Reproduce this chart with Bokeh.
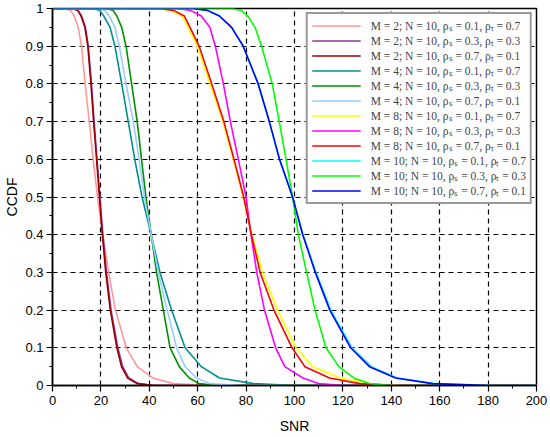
from bokeh.plotting import figure
from bokeh.models import FixedTicker, Legend, LegendItem
from bokeh.embed import file_html
from bokeh.resources import INLINE

ccdf_levels = [1.0, 1.0, 0.995, 0.98, 0.95, 0.9, 0.8, 0.7, 0.6, 0.5, 0.4,
               0.3, 0.2, 0.1, 0.05, 0.02, 0.005, 0.0, 0.0]

snr_m2_s01 = [0, 5, 7.5, 9.0, 10.6, 12.0, 13.5, 15.2, 16.8, 18.6, 20.8, 23.2, 26.0, 30.5, 35.0, 41.5, 50.0, 65.0, 200]
snr_m2_s03 = [0, 8.5, 10.5, 12.0, 13.6, 14.8, 16.1, 17.2, 18.4, 19.6, 20.8, 22.3, 24.2, 27.0, 29.0, 31.5, 35.5, 42.0, 200]
snr_m2_s07 = [0, 8.5, 10.5, 11.8, 13.4, 14.6, 15.9, 17.0, 18.2, 19.4, 20.6, 22.0, 23.9, 26.6, 28.5, 31.0, 35.0, 42.0, 200]
snr_m4_s01 = [0, 17, 19.5, 21.2, 23.8, 25.8, 28.6, 31.3, 34.0, 37.0, 40.8, 44.4, 49.2, 54.8, 61.5, 69.0, 83.0, 100.0, 200]
snr_m4_s03 = [0, 22.5, 25.0, 26.6, 28.6, 30.4, 32.7, 35.0, 36.8, 38.6, 40.8, 43.0, 45.8, 48.6, 52.4, 56.5, 60.5, 68.0, 200]
snr_m4_s07 = [0, 19, 21.5, 23.5, 25.8, 27.6, 30.4, 33.4, 35.8, 38.0, 40.8, 43.7, 47.4, 51.3, 54.8, 59.5, 65.0, 78.0, 200]
snr_m8_s01 = [0, 43, 49, 53.5, 56.1, 59.8, 65.1, 70.4, 74.7, 78.8, 82.4, 86.8, 93.0, 100.6, 107.5, 119.0, 131.0, 145.0, 200]
snr_m8_s03 = [0, 52, 57, 61.5, 65.0, 67.3, 70.6, 73.5, 76.8, 80.0, 82.0, 84.4, 87.6, 92.2, 96.0, 103.5, 110.0, 120.0, 200]
snr_m8_s07 = [0, 44, 50, 54.5, 56.8, 60.6, 65.8, 70.8, 75.0, 79.0, 82.2, 85.8, 91.5, 99.0, 104.3, 114.5, 127.0, 142.0, 200]
snr_m10_s01 = [0, 58, 64, 69, 74, 78.8, 85.0, 89.6, 93.8, 99.2, 103.5, 108.9, 115.0, 123.8, 131.8, 142.5, 158.0, 182.0, 200]
snr_m10_s03 = [0, 74, 78, 80.7, 83.7, 86.4, 90.8, 93.7, 96.5, 99.2, 101.6, 105.0, 108.5, 113.0, 118.3, 124.5, 131.0, 140.0, 200]
snr_m10_s07 = [0, 58, 64, 69, 74, 78.8, 85.0, 89.6, 93.8, 99.2, 103.4, 108.6, 114.6, 123.2, 131.0, 141.8, 157.0, 180.0, 200]

series = [snr_m2_s01, snr_m2_s03, snr_m2_s07,
          snr_m4_s01, snr_m4_s03, snr_m4_s07,
          snr_m8_s01, snr_m8_s03, snr_m8_s07,
          snr_m10_s01, snr_m10_s03, snr_m10_s07]

labels = [
    "M = 2; N = 10, ρₛ = 0.1, ρₜ = 0.7",
    "M = 2; N = 10, ρₛ = 0.3, ρₜ = 0.3",
    "M = 2; N = 10, ρₛ = 0.7, ρₜ = 0.1",
    "M = 4; N = 10, ρₛ = 0.1, ρₜ = 0.7",
    "M = 4; N = 10, ρₛ = 0.3, ρₜ = 0.3",
    "M = 4; N = 10, ρₛ = 0.7, ρₜ = 0.1",
    "M = 8; N = 10, ρₛ = 0.1, ρₜ = 0.7",
    "M = 8; N = 10, ρₛ = 0.3, ρₜ = 0.3",
    "M = 8; N = 10, ρₛ = 0.7, ρₜ = 0.1",
    "M = 10; N = 10, ρₛ = 0.1, ρₜ = 0.7",
    "M = 10; N = 10, ρₛ = 0.3, ρₜ = 0.3",
    "M = 10; N = 10, ρₛ = 0.7, ρₜ = 0.1",
]

colors = ["#FF9999", "#993399", "#990000",
          "#009090", "#009000", "#99CCFF",
          "#FFFF00", "#FF00FF", "#FF0000",
          "#00FFFF", "#00FF00", "#0000FF"]

x_ticks = [0, 20, 40, 60, 80, 100, 120, 140, 160, 180, 200]
x_minor = [10, 30, 50, 70, 90, 110, 130, 150, 170, 190]
y_ticks = [0, 0.1, 0.2, 0.3, 0.4, 0.5, 0.6, 0.7, 0.8, 0.9, 1]
y_tick_labels = ["0", "0.1", "0.2", "0.3", "0.4", "0.5", "0.6", "0.7", "0.8", "0.9", "1"]
y_minor = [0.05, 0.15, 0.25, 0.35, 0.45, 0.55, 0.65, 0.75, 0.85, 0.95]

p = figure(width=550, height=437, x_range=(0, 200), y_range=(0, 1),
           output_backend="svg", toolbar_location=None,
           min_border_left=52, min_border_right=14,
           min_border_top=8, min_border_bottom=52)
p.background_fill_color = "white"
p.border_fill_color = "white"
p.outline_line_color = "black"
p.outline_line_width = 1.5

items = []
for xs, lab, col in zip(series, labels, colors):
    r = p.line(xs, ccdf_levels, line_color=col, line_width=1.6)
    items.append(LegendItem(label=lab, renderers=[r]))

legend = Legend(items=items, location="top_right")
legend.border_line_color = "#333333"
legend.border_line_width = 2
legend.background_fill_color = "white"
legend.background_fill_alpha = 1.0
legend.label_text_font = "Liberation Serif"
legend.label_text_font_size = "11.5px"
legend.glyph_width = 49
legend.glyph_height = 11
legend.label_height = 11
legend.spacing = 0
legend.padding = 4
legend.margin = 4
legend.label_standoff = 10
p.add_layout(legend)

p.xaxis.ticker = FixedTicker(ticks=x_ticks, minor_ticks=x_minor)
p.yaxis.ticker = FixedTicker(ticks=y_ticks, minor_ticks=y_minor)
p.yaxis.major_label_overrides = dict(zip(y_ticks, y_tick_labels))

for ax in (p.xaxis, p.yaxis):
    ax.axis_line_color = "black"
    ax.axis_line_width = 1.5
    ax.major_tick_line_color = "black"
    ax.minor_tick_line_color = "black"
    ax.major_tick_line_width = 1.2
    ax.minor_tick_line_width = 1.0
    ax.major_tick_out = 6
    ax.major_tick_in = 0
    ax.minor_tick_out = 3
    ax.minor_tick_in = 0
    ax.major_label_text_font = "Liberation Sans"
    ax.major_label_text_font_size = "13px"
    ax.major_label_text_color = "black"
    ax.axis_label_text_font = "Liberation Sans"
    ax.axis_label_text_font_size = "14px"
    ax.axis_label_text_font_style = "normal"
    ax.axis_label_text_color = "black"

p.xaxis.axis_label = "SNR"
p.yaxis.axis_label = "CCDF"
p.xaxis.major_label_standoff = 4
p.xaxis.axis_label_standoff = 10
p.yaxis.major_label_standoff = 3
p.yaxis.axis_label_standoff = 2

for g in (p.xgrid, p.ygrid):
    g.grid_line_color = "black"
    g.grid_line_width = 1.2
    g.grid_line_dash = "5 4"
p.xgrid.ticker = FixedTicker(ticks=x_ticks)
p.ygrid.ticker = FixedTicker(ticks=y_ticks)

open("out.html", "w").write(file_html(p, INLINE))
